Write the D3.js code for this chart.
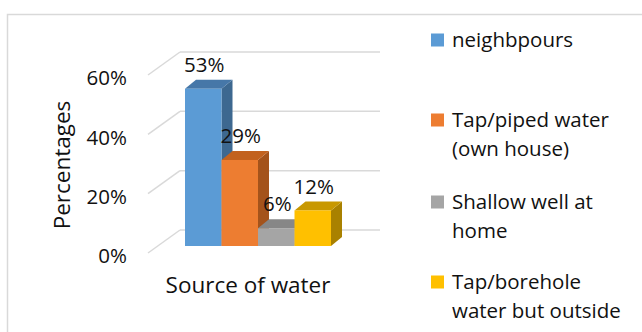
<!DOCTYPE html>
<html><head><meta charset="utf-8">
<script src="https://cdn.jsdelivr.net/npm/d3@7"></script>
<style>
html,body{margin:0;padding:0;background:#fff;}
svg{display:block;font-family:"Open Sans",sans-serif;}
</style></head>
<body>
<svg id="c" width="642" height="332"></svg>
<script>
const categories = ["neighbpours","Tap/piped water (own house)","Shallow well at home","Tap/borehole water but outside"];
const values = [53, 29, 6, 12];
const valueLabels = ["53%","29%","6%","12%"];
const legendLines = [["neighbpours"],["Tap/piped water","(own house)"],["Shallow well at","home"],["Tap/borehole","water but outside"]];
const ticks = [0, 20, 40, 60];
const colors = ["#5B9BD5","#ED7D31","#A5A5A5","#FFC000"];
const topColors = ["#4677a8","#c2621f","#878787","#c89800"];
const sideColors = ["#3d6890","#a4531b","#747474","#a98100"];

const svg = d3.select("#c");
const fontSize = 20.5;
const titleSize = 22.5;
const textColor = "#111";

// chart border
svg.append("path").attr("d","M7.5,332 V14.5 H642").attr("fill","none").attr("stroke","#d9d9d9").attr("stroke-width",1.5);

const yBack = d3.scaleLinear().domain([0,60]).range([230,52]);
const yFront = d3.scaleLinear().domain([0,60]).range([246,68]);
const yLabel = d3.scaleLinear().domain([0,60]).range([256,78]);
const x = d3.scaleBand().domain(categories).range([185,331]).paddingInner(0).paddingOuter(0);
const dx = 11, dy = -9;

// gridlines: back wall + side wall diagonals
const g = svg.append("g");
ticks.forEach(t=>{
  const yb = yBack(t);
  g.append("line").attr("x1",180).attr("x2",380).attr("y1",yb).attr("y2",yb).attr("stroke","#d9d9d9").attr("stroke-width",1.5);
  g.append("line").attr("x1",180).attr("y1",yb).attr("x2",148).attr("y2",yb+23).attr("stroke","#d9d9d9").attr("stroke-width",1.5);
});

// y tick labels
svg.append("g").selectAll("text").data(ticks).join("text")
  .attr("x",127).attr("y",d=>yLabel(d)).attr("dy","0.35em")
  .attr("text-anchor","end").attr("font-size",fontSize).attr("fill",textColor)
  .text(d=>d+"%");

// bars
const bars = svg.append("g");
categories.forEach((c,i)=>{
  const x0 = x(c), x1 = x(c)+x.bandwidth();
  const yt = yFront(values[i]), yb = yFront(0);
  const bg = bars.append("g");
  bg.append("path").attr("d",`M${x1},${yt} L${x1+dx},${yt+dy} L${x1+dx},${yb+dy} L${x1},${yb} Z`).attr("fill",sideColors[i]);
  bg.append("path").attr("d",`M${x0},${yt} L${x0+dx},${yt+dy} L${x1+dx},${yt+dy} L${x1},${yt} Z`).attr("fill",topColors[i]);
  bg.append("rect").attr("x",x0).attr("y",yt).attr("width",x1-x0).attr("height",yb-yt).attr("fill",colors[i]);
});

// value labels
svg.append("g").selectAll("text").data(categories).join("text")
  .attr("x",d=>x(d)+x.bandwidth()/2+1)
  .attr("y",(d,i)=>yFront(values[i])-24).attr("dy","0.35em")
  .attr("text-anchor","middle").attr("font-size",fontSize).attr("fill",textColor)
  .text((d,i)=>valueLabels[i]);

// axis titles
svg.append("text").attr("transform","translate(62,165) rotate(-90)").attr("dy","0.35em")
  .attr("text-anchor","middle").attr("font-size",titleSize).attr("fill",textColor).text("Percentages");
svg.append("text").attr("x",248).attr("y",285).attr("dy","0.35em")
  .attr("text-anchor","middle").attr("font-size",titleSize).attr("fill",textColor).text("Source of water");

// legend
const legY = [40,120,202,282];
const lg = svg.append("g");
categories.forEach((c,i)=>{
  lg.append("rect").attr("x",431).attr("y",legY[i]-6.5).attr("width",13).attr("height",13).attr("fill",colors[i]);
  legendLines[i].forEach((ln,j)=>{
    lg.append("text").attr("x",452).attr("y",legY[i]+j*29).attr("dy","0.35em")
      .attr("font-size",fontSize).attr("fill",textColor).text(ln);
  });
});
</script>
</body></html>
